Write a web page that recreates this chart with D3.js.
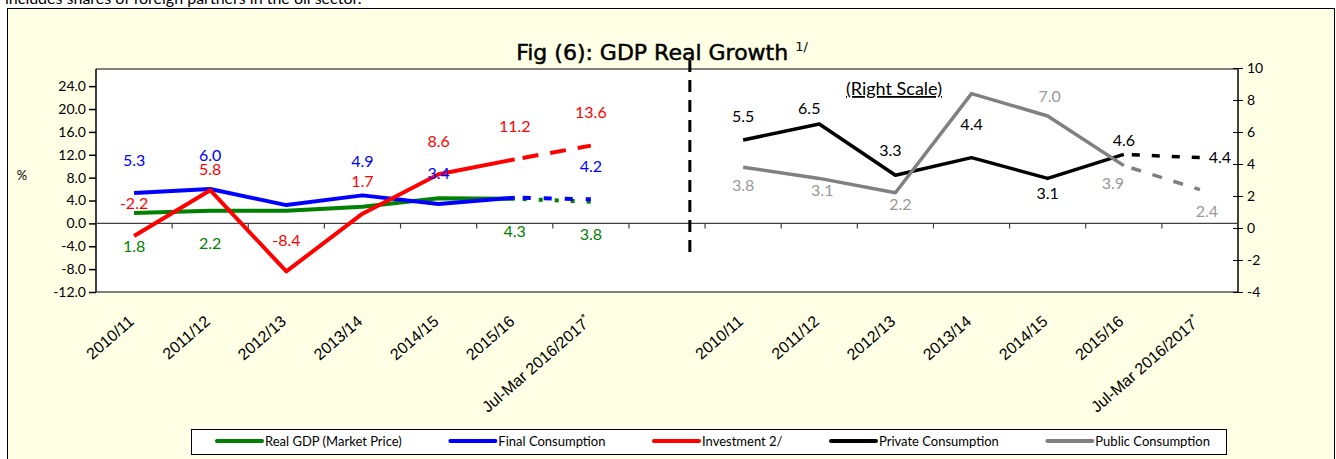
<!DOCTYPE html>
<html lang="en">
<head>
    <meta charset="UTF-8">
    <title>Fig (6): GDP Real Growth</title>
    <script src="https://d3js.org/d3.v7.min.js"></script>
    <style>
        body { margin: 0; background: #fff; }
        svg { display: block; }
        text { font-family: Lato, "Open Sans", sans-serif; }
        .xlab { font-family: "Liberation Sans", Arial, sans-serif; font-size: 16px; }
    </style>
</head>
<body>
    <svg width="1336" height="459"></svg>

    <script>
        // Categories
        const years = ["2010/11", "2011/12", "2012/13", "2013/14", "2014/15", "2015/16", "Jul-Mar 2016/2017"];

        // Left scale series (%)
        const realGdp = [1.8, 2.2, 2.2, 2.9, 4.4, 4.3, 3.8];
        const finalCons = [5.3, 6.0, 3.2, 4.9, 3.4, 4.5, 4.2];
        const investment = [-2.2, 5.8, -8.4, 1.7, 8.6, 11.2, 13.6];

        // Right scale series (%)
        const privateCons = [5.5, 6.5, 3.3, 4.4, 3.1, 4.6, 4.4];
        const publicCons = [3.8, 3.1, 2.2, 8.4, 7.0, 3.9, 2.4];

        // Axis ticks
        const leftTicks = [-12, -8, -4, 0, 4, 8, 12, 16, 20, 24];
        const rightTicks = [-4, -2, 0, 2, 4, 6, 8, 10];

        const svg = d3.select("svg");
        const fmt1 = v => v.toFixed(1);

        // text cut off above the chart
        svg.append("text").attr("x", 5).attr("y", 4)
            .style("font-size", "16px").attr("fill", "#000")
            .text("includes shares of foreign partners in the oil sector.");

        // chart area
        svg.append("rect").attr("x", 7.5).attr("y", 8.5).attr("width", 1327).attr("height", 460)
            .attr("fill", "#ffffe6").attr("stroke", "#000").attr("stroke-width", 1);

        const plot = { left: 96, right: 1238, top: 69, bottom: 292 };

        // one band per category: left panel, a gap, right panel
        const keys = years.map((d, i) => "L" + i).concat(["gap"], years.map((d, i) => "R" + i));
        const x = d3.scaleBand().domain(keys).range([plot.left, plot.right]);
        const yL = d3.scaleLinear().domain([-12, 27]).range([plot.bottom, plot.top]);
        const yR = d3.scaleLinear().domain([-4, 10]).range([plot.bottom, plot.top - 1]);
        const cx = k => x(k) + x.bandwidth() / 2;

        // plot area
        svg.append("rect").attr("x", plot.left).attr("y", plot.top)
            .attr("width", plot.right - plot.left).attr("height", plot.bottom - plot.top)
            .attr("fill", "#fff");
        svg.append("line").attr("x1", plot.left).attr("x2", plot.right)
            .attr("y1", plot.top).attr("y2", plot.top).attr("stroke", "#808080").attr("stroke-width", 2);
        svg.append("line").attr("x1", plot.left).attr("x2", plot.right)
            .attr("y1", plot.bottom).attr("y2", plot.bottom).attr("stroke", "#808080").attr("stroke-width", 2);

        // left axis
        const axL = svg.append("g").attr("transform", `translate(${plot.left},0)`)
            .call(d3.axisLeft(yL).tickValues(leftTicks).tickFormat(fmt1).tickSize(7).tickPadding(3));
        axL.select(".domain").attr("d", `M0,${plot.top}V${plot.bottom}`).attr("stroke-width", 1.5);
        axL.selectAll("text").style("font-size", "14px").style("font-family", "Lato");
        axL.selectAll(".tick line").attr("stroke-width", 1.5);

        // right axis
        const axR = svg.append("g").attr("transform", `translate(${plot.right},0)`)
            .call(d3.axisRight(yR).tickValues(rightTicks).tickFormat(d => String(d)).tickSize(5).tickPadding(4));
        axR.select(".domain").attr("d", `M0,${plot.top}V${plot.bottom}`).attr("stroke-width", 1.5);
        axR.selectAll(".tick line").attr("x1", -5);
        axR.selectAll("text").style("font-size", "14px").style("font-family", "Lato");

        // category axis on zero line
        svg.append("line").attr("x1", plot.left).attr("x2", plot.right)
            .attr("y1", yL(0)).attr("y2", yL(0)).attr("stroke", "#404040").attr("stroke-width", 1.2);
        svg.append("g").selectAll("line").data(keys.slice(1)).join("line")
            .attr("x1", d => x(d)).attr("x2", d => x(d))
            .attr("y1", yL(0)).attr("y2", yL(0) + 5)
            .attr("stroke", "#404040").attr("stroke-width", 1.2);

        // x labels
        const xlabs = svg.append("g");
        keys.filter(k => k !== "gap").forEach(k => {
            const i = +k.slice(1);
            const t = xlabs.append("text").attr("class", "xlab")
                .attr("text-anchor", "end")
                .attr("transform", `translate(${cx(k) + 1},${plot.bottom + 31}) rotate(-41)`)
                .text(years[i]);
            if (i === years.length - 1) {
                t.append("tspan").attr("dy", -6).style("font-size", "11px").text("*");
            }
        });

        // separator between panels
        svg.append("line")
            .attr("x1", x("gap") + x.bandwidth() * 0.8).attr("x2", x("gap") + x.bandwidth() * 0.8)
            .attr("y1", 60).attr("y2", 258)
            .attr("stroke", "#000").attr("stroke-width", 3).attr("stroke-dasharray", "12,8");

        // series
        const series = [
            { name: "Real GDP (Market Price)", values: realGdp, side: "L", y: yL, color: "#008000", lab: "#008000", w: 4, dash: "4,12",
              labels: [[0, 33], [0, 33], null, null, null, [0, 33], [0, 33]] },
            { name: "Final Consumption", values: finalCons, side: "L", y: yL, color: "#0000ff", lab: "#0000ff", w: 4, dash: "8,13",
              labels: [[0, -33], [0, -34], null, [0, -34], [0, -31], null, [0, -33]] },
            { name: "Investment 2/", values: investment, side: "L", y: yL, color: "#ff0000", lab: "#ff0000", w: 4, dash: "16,12",
              labels: [[0, -33], [0, -21], [0, -31], [0, -32], [0, -33], [0, -33], [0, -33]] },
            { name: "Private Consumption", values: privateCons, side: "R", y: yR, color: "#000000", lab: "#000000", w: 3.5, dash: "8,12",
              labels: [[0, -24], [-10, -16], [-5, -25], [0, -33], [0, 15], [0, -14], [20, 0]] },
            { name: "Public Consumption", values: publicCons, side: "R", y: yR, color: "#808080", lab: "#999999", w: 3.5, dash: "10,12",
              labels: [[0, 18], [3, 12], [5, 12], null, [2, -20], [-11, 18], [7, 22]] }
        ];

        const line = d3.line();
        series.forEach(s => {
            const pts = s.values.map((v, i) => [cx(s.side + i), s.y(v)]);
            const n = pts.length;
            svg.append("path").attr("d", line(pts.slice(0, n - 1)))
                .attr("fill", "none").attr("stroke", s.color).attr("stroke-width", s.w)
                .attr("stroke-linejoin", "round");
            svg.append("path").attr("d", line(pts.slice(n - 2)))
                .attr("fill", "none").attr("stroke", s.color).attr("stroke-width", s.w)
                .attr("stroke-dasharray", s.dash).attr("stroke-dashoffset", -8);
        });

        // data labels on top
        series.forEach(s => {
            s.values.forEach((v, i) => {
                const off = s.labels[i];
                if (!off) return;
                svg.append("text")
                    .attr("x", cx(s.side + i) + off[0]).attr("y", s.y(v) + off[1])
                    .attr("dy", "0.35em").attr("text-anchor", "middle")
                    .attr("fill", s.lab).style("font-size", "16px")
                    .text(fmt1(v));
            });
        });

        // titles
        const title = svg.append("text").attr("x", 662).attr("y", 60).attr("text-anchor", "middle")
            .style("font-family", "'DejaVu Sans', sans-serif").style("font-size", "22px")
            .attr("fill", "#000").attr("stroke", "#000").attr("stroke-width", 0.5)
            .text("Fig (6): GDP Real Growth ");
        title.append("tspan").attr("dy", -9).style("font-size", "13px").attr("stroke-width", 0).text("1/");

        svg.append("text").attr("x", 894).attr("y", 95).attr("text-anchor", "middle")
            .style("font-size", "18px").style("text-decoration", "underline").text("(Right Scale)");

        svg.append("text").attr("x", 22).attr("y", 180).attr("text-anchor", "middle")
            .style("font-size", "13px").text("%");

        // legend
        const lg = svg.append("g");
        lg.append("rect").attr("x", 191.5).attr("y", 429.5).attr("width", 1035).attr("height", 25)
            .attr("fill", "#fff").attr("stroke", "#000");
        let lx = 217;
        series.forEach(s => {
            lg.append("line").attr("x1", lx).attr("x2", lx + 45).attr("y1", 441).attr("y2", 441)
                .attr("stroke", s.color).attr("stroke-width", 4).attr("stroke-linecap", "round");
            const t = lg.append("text").attr("x", lx + 48).attr("y", 446)
                .style("font-size", "13px").text(s.name);
            lx += 48 + t.node().getComputedTextLength() + 48.5;
        });
    </script>
</body>
</html>
